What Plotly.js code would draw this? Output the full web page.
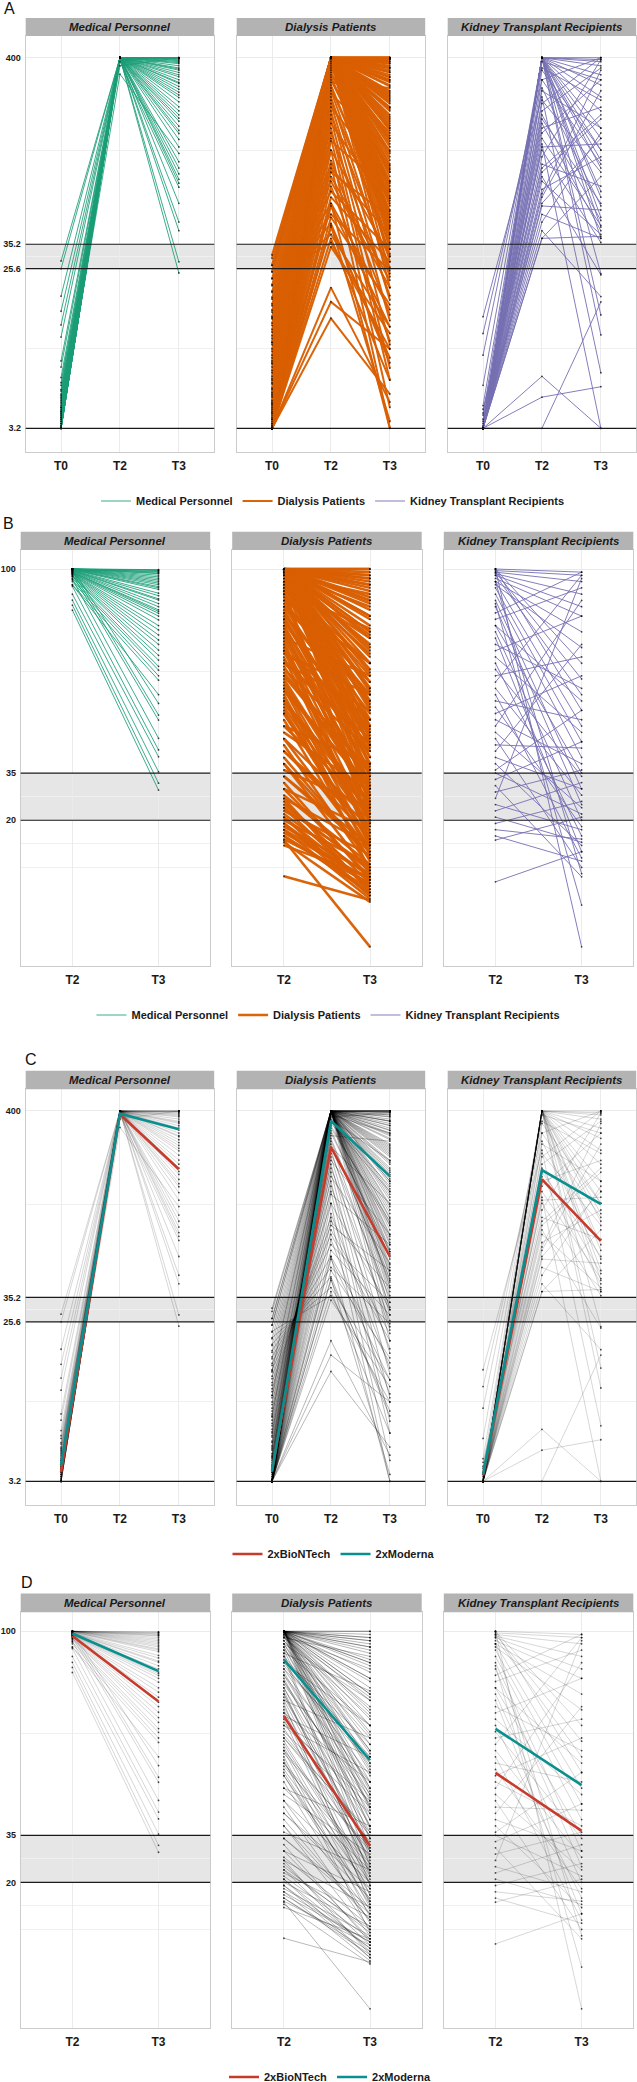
<!DOCTYPE html>
<html><head><meta charset="utf-8">
<script src="https://cdn.plot.ly/plotly-3.0.1.min.js"></script>
<style>html,body{margin:0;padding:0;background:#fff}</style>
</head><body>
<div id="chart" style="width:637px;height:2082px"></div>
<script>
// ---------------- DATA ----------------
const groups = ['Medical Personnel', 'Dialysis Patients', 'Kidney Transplant Recipients'];
const timesAC = ['T0', 'T2', 'T3'];
const timesBD = ['T2', 'T3'];
const ticksLog = [3.2, 25.6, 35.2, 400];
const tickLabelsLog = ['3.2', '25.6', '35.2', '400'];
const ticksLin = [20, 35, 100];
const tickLabelsLin = ['20', '35', '100'];
const vaccines = ['2xBioNTech', '2xModerna'];

// Panel A / C : antibody titre (log scale) per subject at T0, T2, T3
const mpT0 = [3.2,3.2,3.2,3.2,3.2,3.2,3.3,3.4,3.5,3.6,3.7,3.8,3.9,4.0,4.1,4.2,4.4,4.5,4.7,4.9,5.0,5.3,5.6,5.8,6.2,7.1,7.7,10.5,12.3,14.7,17.9,25.6,28.3,3.2,3.2,3.3,3.5,3.6,3.8,4.0,4.3,4.6,3.2,3.4,3.7,3.9,4.2,4.8,5.2,3.2];
const mpT2 = [400,400,400,400,400,400,400,400,400,400,400,400,400,400,400,400,400,400,400,400,400,400,400,400,400,400,400,400,400,400,400,400,400,400,400,400,323,400,400,400,400,400,380,400,400,400,400,400,360,400];
const mpT3 = [400,400,400,398,395,390,385,380,375,370,360,350,345,340,330,320,312,300,290,286,275,265,255,246,238,225,211,200,190,182,175,164,155,149,138,125,115,103,95,88,82,78,74,60,47,42,28,24.2,400,396];

const dpT0 = [3.2,3.2,3.2,3.2,3.2,3.2,3.2,3.2,3.2,3.2,3.2,3.2,3.2,3.2,3.2,3.2,3.2,3.2,3.2,3.2,3.2,3.2,3.2,3.2,3.2,3.2,3.2,3.2,3.2,3.2,
  3.2,3.2,3.2,3.2,3.2,3.2,3.2,3.2,3.2,3.2,3.2,3.2,3.2,3.2,3.2,3.2,3.2,3.2,3.2,3.2,3.2,3.2,3.2,3.2,3.2,3.2,3.2,3.2,3.2,3.2,
  3.5,3.8,4.0,4.3,4.6,5.0,5.4,5.8,6.3,6.8,7.4,8.0,8.7,9.5,10.3,11.2,12.2,13.3,14.5,15.8,17.2,18.8,20.5,22.4,24.5,26.8,29.3,30.6,
  3.4,3.6,3.9,4.2,4.5,4.9,5.3,5.7,6.1,6.6,7.1,7.7,8.3,9.0,9.8,10.7,11.6,12.6,13.7,14.9,16.2,17.6,19.1,20.8,22.6,24.6,26.7,3.3,3.7,4.1,4.4,4.8,
  3.2,3.2,3.2,3.2,3.2,3.2,3.2,3.2,3.2,3.2,3.3,3.4,3.6,3.9,4.4,5.1,6.0,7.5,9.8,13.5];
const dpT2 = [400,400,400,400,400,400,400,400,400,400,400,400,400,400,400,400,400,400,400,400,400,400,400,400,400,400,400,400,400,400,
  390,370,350,330,310,290,270,250,230,210,190,170,150,135,120,105,95,85,75,65,58,50,44,38,34,20,16.6,13.4,60,45,
  400,400,400,400,400,400,400,400,400,400,400,400,400,400,400,400,400,400,400,400,400,400,400,400,400,400,400,400,400,400,
  380,360,340,320,300,280,260,240,220,200,180,160,140,120,100,90,80,70,60,52,46,40,36,400,400,400,400,400,400,400,
  400,400,400,400,400,400,400,400,400,400,400,400,400,400,400,400,400,400,400,400];
const dpT3 = [400,400,395,380,360,340,320,300,280,260,240,220,200,185,170,155,140,125,110,98,85,75,66,58,50,44,38,33,28,24,
  20,390,150,90,60,270,45,120,35,80,26,55,18,70,30,14,40,22,10,28,12,16,8,6,11,4.5,9,5,3.2,3.5,
  400,390,370,350,330,310,290,250,230,210,190,165,145,130,115,100,90,80,70,62,54,47,41,36,400,400,380,350,400,400,
  300,210,140,95,64,43,31,23,17,13,9.5,7,6,4.2,3.2,50,20,33,15,25,7.5,12,9,255,175,235,160,105,72,52,
  392,372,352,332,312,295,275,245,225,205,180,160,135,118,93,78,64,48,40,30];

const ktT0 = [3.2,3.2,3.2,3.2,3.2,3.2,3.2,3.2,3.2,3.2,3.2,3.2,3.2,3.2,3.2,3.2,3.2,3.2,3.2,3.2,3.2,3.2,3.2,3.2,3.2,3.2,3.2,3.2,3.2,3.2,
  3.2,3.2,3.2,3.2,3.2,3.2,3.2,3.2,3.2,3.2,3.5,3.8,4.3,5.6,8.3,11,13.7,3.3,3.4,3.6,3.9,4.1,3.2,3.2,3.2,3.2,3.2,3.2,3.2,3.2];
const ktT2 = [400,400,400,400,400,400,400,400,400,400,400,400,400,400,400,
  380,340,300,260,230,200,180,160,140,125,110,100,90,80,72,65,58,52,47,42,38,38,
  6.3,4.8,3.2,400,400,400,400,350,300,240,220,190,150,120,95,85,68,60,400,400,270,170,130];
const ktT3 = [400,390,360,320,280,240,200,160,120,95,70,50,38,24,14,
  300,120,400,160,90,350,60,210,45,130,390,75,180,40,110,260,55,38,150,17.8,85,39,
  3.2,5.5,16.6,380,140,65,10.8,230,100,6.6,400,48,300,36,190,23.6,340,140,105,44,58,42,3.2];

// Panel B / D : % inhibition per subject at T2, T3
const mpB2 = [100,100,100,100,100,100,100,100,100,100,100,100,100,99.9,99.8,99.8,99.7,99.6,99.5,99.5,99.4,99.3,99.2,99,99,98.9,98.8,98.7,98.6,98.5,98.4,98.3,98,97.8,97.6,97.5,97,96.5,96,95,94.9,100,99.3,98.2,96.8,94.5,92,90.1,88.5,86.9];
const mpB3 = [99.8,99.7,99.5,99.2,99,98.7,98.5,98,97.5,97,96.5,96,95.5,95,94.4,94,93.5,92.3,91.5,90.5,90.1,89,88,87,86.5,85.9,85,83.8,82,80.6,79,77.4,76,74.2,72.5,71,69,67.8,66,64.6,60,57.2,53.5,51.9,46.1,42.4,40.2,35.4,31.8,29.6];

const dpB2 = [100,100,100,100,100,100,100,100,100,100,100,100,100,100,100,100,100,100,100,100,100,100,100,100,100,100,100,100,100,100,
  99.5,99,98.5,98,97,96,95,94,93,92,90,88,86,84,82,80,78,76,74,72,70,68,66,64,62,60,58,56,54,52,
  50,48,46,44,42,40,38,36,34,32,30,28,27,26,25,24,23,22,21,20,19,18,17,16,15,14,13,12,13.7,2.2,
  100,100,100,100,100,99,98,97,96,95,93,91,89,87,85,83,81,79,77,75,73,71,69,67,65,63,61,59,57,55,
  100,100,100,100,100,100,100,100,100,100,98,96,94,92,90,88,86,84,82,80,78,74,70,66,62,58,54,50,46,42,38,34,30,27,24,21,19,17,15,100];
const dpB3 = [100,99,98,97,96,95,93,91,89,87,85,82,80,78,75,72,70,67,64,61,58,55,52,49,46,43,40,37,34,31,
  28,25,88,76,62,50,44,38,22,19,70,60,52,45,36,30,27,24,16,14,55,42,33,21,12,9,26,18,11,7,
  38,29,20,5,15,8,3,24,10,1,17,6,12,0,4,-2,9,2,-4,6,-1,3,-5,1,-3,0,-6,2,-20.3,-5.4,
  100,98,94,90,84,79,73,66,57,48,81,64,58,40,34,47,23,32,13,19,60,44,28,35,22,16,31,4,25,13,
  95,90,85,80,74,68,62,56,50,44,92,78,70,60,54,48,42,38,30,26,66,52,46,36,30,20,14,24,10,18,8,12,2,-3,5,-1,-4,1,-2,97];

const ktB2 = [100,99.5,99,98.5,98,97,96,95,100,99,98,100,96,94,92,90,88,86,84,82,80,78,76,74,72,70,68,66,64,62,60,58,56,54,52,50,48,46,44,42,40,38,36,35,33,31,29,27,25,23,21,19,17,15,13.7,0.4,100,96,89,82];
const ktB3 = [99,98,96,92,88,85,80,75,70,65,60,55,50,45,40,30,25,99,94,58,20,10,62,85,48,15,34,72,98,28,8,52,18,66,38,90,24,5,43,76,30,12,55,22,45,2,36,97,17,32,13,26,14,7,21,10,-20.3,3,-7,35];

// Group means by vaccine (panel C: T0,T2,T3 ; panel D: T2,T3)
const bntC_mp = [3.6, 383, 187],  modC_mp = [3.96, 386, 315];
const bntC_dp = [3.7, 250, 60],   modC_dp = [3.63, 351, 171];
const bntC_kt = [3.45, 164, 73.5], modC_kt = [3.5, 185, 118.6];
const bntD_mp = [98.5, 77.6], modD_mp = [99.3, 87.3];
const bntD_dp = [72.9, 31.6], modD_dp = [91.0, 58.9];
const bntD_kt = [54.9, 36.4], modD_kt = [68.9, 51.0];

// ---------------- STYLE / LAYOUT ----------------
const FONT = 'Liberation Sans, Arial, sans-serif';
const W = 637, H = 2082;
const py = v => 1 - v / H;
const groupColors = ['rgba(27,158,119,0.85)', 'rgba(217,95,2,0.97)', 'rgba(117,112,179,0.9)'];
const groupWidthsAC = [1, 2.0, 1];
const groupWidthsBD = [1, 2.6, 1];
const grayAlpha = [0.16, 0.28, 0.16];
const vacColors = ['#c63b2b', '#0a8f8f'];

const dataAC = [[mpT0, mpT2, mpT3], [dpT0, dpT2, dpT3], [ktT0, ktT2, ktT3]];
const dataBD = [[mpB2, mpB3], [dpB2, dpB3], [ktB2, ktB3]];
const meansC = [[bntC_mp, modC_mp], [bntC_dp, modC_dp], [bntC_kt, modC_kt]];
const meansD = [[bntD_mp, modD_mp], [bntD_dp, modD_dp], [bntD_kt, modD_kt]];

const colsAC = [[25.7, 214.2], [236.7, 425.2], [447.7, 636.2]];
const colsBD = [[20.7, 210.2], [232.2, 421.7], [443.8, 633.3]];

const rows = [
  {plot: [36, 452], strip: [18, 36], cols: colsAC, kind: 'log', label: 'A', labelPos: [9, 9], legendPos: [333, 501], legend: 'legend', mode: 'color'},
  {plot: [550, 966], strip: [531.7, 550], cols: colsBD, kind: 'lin', label: 'B', labelPos: [8, 523.5], legendPos: [328.5, 1015], legend: 'legend2', mode: 'color'},
  {plot: [1089.3, 1505], strip: [1070.7, 1089.3], cols: colsAC, kind: 'log', label: 'C', labelPos: [31, 1059.5], legendPos: [333.5, 1554], legend: 'legend3', mode: 'gray'},
  {plot: [1612.3, 2028], strip: [1593.5, 1612.3], cols: colsBD, kind: 'lin', label: 'D', labelPos: [27, 1582.5], legendPos: [330, 2077], legend: 'legend4', mode: 'gray'}
];

// minor gridlines (ggplot style: halfway between breaks, in transformed space)
const minorLog = [];
for (let i = 0; i < ticksLog.length - 1; i++) minorLog.push(Math.sqrt(ticksLog[i] * ticksLog[i + 1]));
const minorLin = [];
const extLin = [ticksLin[0] - (ticksLin[1] - ticksLin[0])].concat(ticksLin);
for (let i = 0; i < extLin.length - 1; i++) minorLin.push((extLin[i] + extLin[i + 1]) / 2);
minorLin.push(extLin[0]);

const layout = {
  width: W, height: H,
  margin: {l: 0, r: 0, t: 0, b: 0, autoexpand: false},
  paper_bgcolor: '#ffffff', plot_bgcolor: '#ffffff',
  showlegend: true, shapes: [], annotations: [],
  font: {family: FONT, color: '#1a1a1a'}
};
const traces = [];

rows.forEach((row, r) => {
  const isLog = row.kind === 'log';
  const times = isLog ? timesAC : timesBD;
  const xpos = times.map((_, i) => i + 1);

  layout[row.legend] = {
    orientation: 'h', x: row.legendPos[0] / W, xanchor: 'center',
    y: py(row.legendPos[1]), yanchor: 'middle',
    bgcolor: 'rgba(0,0,0,0)', itemwidth: 30, traceorder: 'normal',
    font: {family: FONT, size: 11, weight: 'bold', color: '#1a1a1a'}
  };
  layout.annotations.push({
    xref: 'paper', yref: 'paper', x: row.labelPos[0] / W, y: py(row.labelPos[1]),
    text: row.label, showarrow: false, xanchor: 'center', yanchor: 'middle',
    font: {family: FONT, size: 16, color: '#111'}
  });

  for (let c = 0; c < 3; c++) {
    const idx = r * 3 + c;
    const s = idx === 0 ? '' : String(idx + 1);
    const xr = 'x' + s, yr = 'y' + s;
    const col = row.cols[c];

    layout['xaxis' + s] = {
      domain: [col[0] / W, col[1] / W], anchor: yr,
      range: [0.4, times.length + 0.6], tickmode: 'array', tickvals: xpos, ticktext: times,
      showgrid: true, gridcolor: '#ebebeb', gridwidth: 1, zeroline: false,
      showline: true, mirror: true, linecolor: '#cccccc', linewidth: 1,
      ticks: '', ticklabelstandoff: 3,
      tickfont: {family: FONT, size: 12, weight: 'bold', color: '#1a1a1a'}, fixedrange: true
    };
    layout['yaxis' + s] = {
      domain: [py(row.plot[1]), py(row.plot[0])], anchor: xr,
      type: isLog ? 'log' : 'linear',
      range: isLog ? [0.371, 2.7249] : [-26.4, 106.05],
      tickmode: 'array', tickvals: isLog ? ticksLog : ticksLin, ticktext: isLog ? tickLabelsLog : tickLabelsLin,
      showticklabels: c === 0,
      showgrid: true, gridcolor: '#ebebeb', gridwidth: 1, zeroline: false,
      minor: {tickmode: 'array', tickvals: isLog ? minorLog : minorLin, showgrid: true, gridcolor: '#f0f0f0', gridwidth: 1, ticks: ''},
      showline: true, mirror: true, linecolor: '#cccccc', linewidth: 1,
      ticks: '', ticklabelstandoff: 2,
      tickfont: {family: FONT, size: 9, weight: 'bold', color: '#1a1a1a'}, fixedrange: true
    };

    // band + threshold lines
    const band = isLog ? [ticksLog[1], ticksLog[2]] : [ticksLin[0], ticksLin[1]];
    const hl = isLog ? ticksLog.slice(0, 3) : ticksLin.slice(0, 2);
    layout.shapes.push({type: 'rect', xref: xr + ' domain', yref: yr, x0: 0, x1: 1, y0: band[0], y1: band[1],
      fillcolor: '#e6e6e6', line: {width: 0}, layer: 'below'});
    hl.forEach(v => layout.shapes.push({type: 'line', xref: xr + ' domain', yref: yr, x0: 0, x1: 1, y0: v, y1: v,
      line: {color: '#1a1a1a', width: 1.2}, layer: 'above'}));

    // strip
    layout.shapes.push({type: 'rect', xref: 'paper', yref: 'paper', x0: col[0] / W, x1: col[1] / W,
      y0: py(row.strip[1]), y1: py(row.strip[0]), fillcolor: '#b3b3b3', line: {width: 0}, layer: 'above'});
    layout.annotations.push({xref: 'paper', yref: 'paper', x: (col[0] + col[1]) / 2 / W, y: py((row.strip[0] + row.strip[1]) / 2),
      text: groups[c], showarrow: false, xanchor: 'center', yanchor: 'middle',
      font: {family: FONT, size: 11.5, weight: 'bold', style: 'italic', color: '#1a1a1a'}});

    // data
    const series = isLog ? dataAC[c] : dataBD[c];
    const n = series[0].length;
    const px = [], pyv = [];
    for (let i = 0; i < n; i++) {
      for (let t = 0; t < series.length; t++) { px.push(xpos[t]); pyv.push(series[t][i]); }
    }

    if (row.mode === 'color') {
      const lx = [], ly = [];
      for (let i = 0; i < n; i++) {
        for (let t = 0; t < series.length; t++) { lx.push(xpos[t]); ly.push(series[t][i]); }
        lx.push(null); ly.push(null);
      }
      traces.push({type: 'scatter', mode: 'lines', x: lx, y: ly, xaxis: xr, yaxis: yr,
        line: {color: groupColors[c], width: (isLog ? groupWidthsAC : groupWidthsBD)[c]}, name: groups[c],
        legend: row.legend, showlegend: true, hoverinfo: 'skip'});
    } else {
      for (let i = 0; i < n; i++) {
        traces.push({type: 'scatter', mode: 'lines', x: xpos, y: series.map(a => a[i]), xaxis: xr, yaxis: yr,
          line: {color: 'rgba(0,0,0,' + grayAlpha[c] + ')', width: 1}, showlegend: false, hoverinfo: 'skip'});
      }
    }
    traces.push({type: 'scatter', mode: 'markers', x: px, y: pyv, xaxis: xr, yaxis: yr,
      marker: {size: 1.8, color: 'rgba(0,0,0,0.7)'}, showlegend: false, hoverinfo: 'skip'});

    if (row.mode === 'gray') {
      const m = isLog ? meansC[c] : meansD[c];
      for (let v = 0; v < 2; v++) {
        traces.push({type: 'scatter', mode: 'lines', x: xpos, y: m[v], xaxis: xr, yaxis: yr,
          line: {color: vacColors[v], width: 2.6}, name: vaccines[v], legend: row.legend,
          showlegend: c === 0, hoverinfo: 'skip'});
      }
    }
  }
});

Plotly.newPlot('chart', traces, layout, {staticPlot: true, displayModeBar: false});
</script>
</body></html>
